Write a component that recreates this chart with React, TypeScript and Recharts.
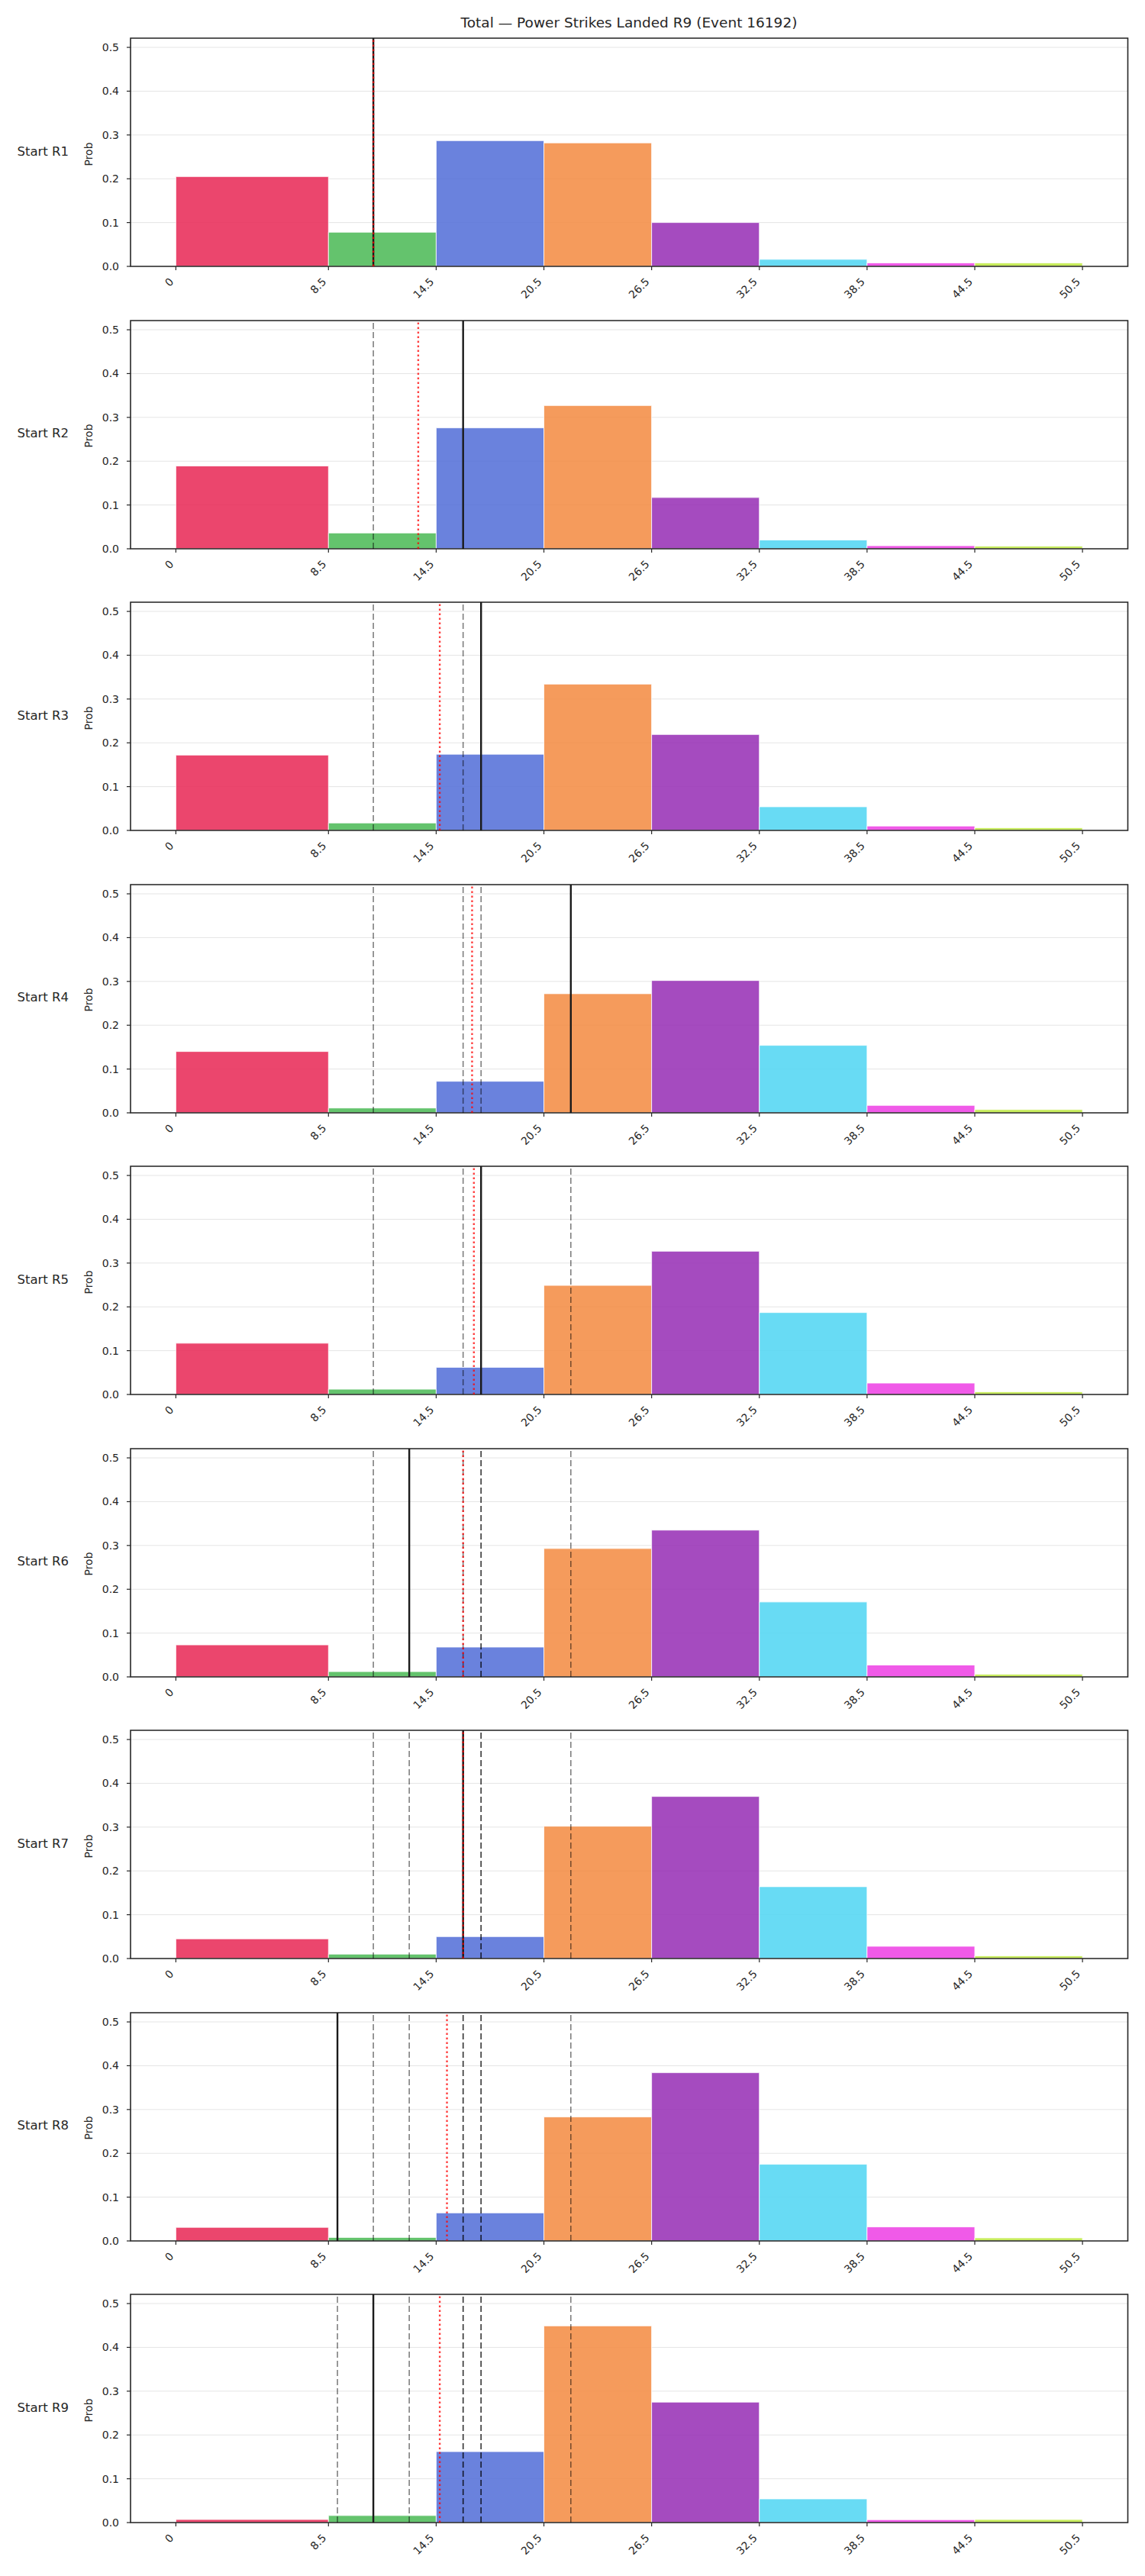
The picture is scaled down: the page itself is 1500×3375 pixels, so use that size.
import React from 'react'
import {
  ComposedChart, Line, XAxis, YAxis, CartesianGrid, ReferenceArea, ReferenceLine,
} from 'recharts'

const FONT = '"DejaVu Sans", sans-serif'
const INK = '#262626'

// bin edges of the histogram (also the x tick values)
const EDGES = [0, 8.5, 14.5, 20.5, 26.5, 32.5, 38.5, 44.5, 50.5]
const BIN_COLORS = ['#E72654', '#49B853', '#506CD7', '#F38A3F', '#952CB4', '#4DD5F2', '#ED3DE4', '#BDE93F']
const Y_TICKS = [0, 0.1, 0.2, 0.3, 0.4, 0.5]
const X_DOMAIN: [number, number] = [-2.525, 53.025]
const Y_DOMAIN: [number, number] = [0, 0.521]

const ROUND_LABELS = ['Start R1', 'Start R2', 'Start R3', 'Start R4', 'Start R5', 'Start R6', 'Start R7', 'Start R8', 'Start R9']

// probability per bin, one list per panel
const P_R1 = [0.205, 0.078, 0.287, 0.282, 0.100, 0.016, 0.008, 0.008]
const P_R2 = [0.189, 0.036, 0.276, 0.327, 0.117, 0.020, 0.007, 0.006]
const P_R3 = [0.172, 0.017, 0.174, 0.334, 0.219, 0.054, 0.010, 0.006]
const P_R4 = [0.140, 0.011, 0.072, 0.272, 0.302, 0.154, 0.017, 0.0075]
const P_R5 = [0.117, 0.012, 0.062, 0.249, 0.327, 0.187, 0.026, 0.006]
const P_R6 = [0.073, 0.012, 0.068, 0.293, 0.335, 0.171, 0.027, 0.006]
const P_R7 = [0.045, 0.010, 0.050, 0.302, 0.370, 0.164, 0.028, 0.006]
const P_R8 = [0.031, 0.008, 0.064, 0.283, 0.384, 0.175, 0.032, 0.007]
const P_R9 = [0.007, 0.016, 0.162, 0.449, 0.275, 0.054, 0.0065, 0.007]
const PROBS = [P_R1, P_R2, P_R3, P_R4, P_R5, P_R6, P_R7, P_R8, P_R9]

// solid black marker of each panel; earlier ones come back as dashed lines
const ACTUAL = [11, 16, 17, 22, 17, 13, 16, 9, 11]
// red dotted marker
const EXPECTED = [11, 13.5, 14.7, 16.5, 16.6, 16.0, 16.0, 15.1, 14.7]

const PLOT_TOP = 50
const PITCH = 369.5
const PLOT_H = 299
const TOP_PAD = 10

function fmtX(v: number) {
  return Number.isInteger(v) ? String(v) : v.toFixed(1)
}

function XTick({ x, y, payload }: any) {
  const ax = x - 2
  const ay = y + 14
  return (
    <text x={ax} y={ay} transform={`rotate(-45 ${ax} ${ay})`} textAnchor="end"
      fontFamily={FONT} fontSize={14} fill={INK}>
      {fmtX(payload.value)}
    </text>
  )
}

function Panel({ idx }: { idx: number }) {
  const probs = PROBS[idx]
  const bins = probs.map((p, i) => ({ lo: EDGES[i], hi: EDGES[i + 1], mid: (EDGES[i] + EDGES[i + 1]) / 2, p }))
  const past = ACTUAL.slice(0, idx)
  return (
    <ComposedChart width={1500} height={PLOT_H + TOP_PAD + 60} data={bins}
      margin={{ top: TOP_PAD, right: 22.5, left: 0, bottom: 0 }}>
      <CartesianGrid vertical={false} stroke="#e5e5e5" strokeWidth={1} />
      <XAxis type="number" dataKey="mid" domain={X_DOMAIN} allowDataOverflow ticks={EDGES} interval={0}
        tick={<XTick />} tickSize={5} tickLine={{ stroke: INK, strokeWidth: 1.2 }} axisLine={false} height={60} />
      <YAxis type="number" domain={Y_DOMAIN} allowDataOverflow ticks={Y_TICKS} interval={0} width={171}
        tickFormatter={(v: number) => v.toFixed(1)} tickSize={5} tickMargin={10}
        tick={{ fontFamily: FONT, fontSize: 14, fill: INK }}
        tickLine={{ stroke: INK, strokeWidth: 1.2 }} axisLine={false} />
      <Line dataKey="p" stroke="none" dot={false} activeDot={false} isAnimationActive={false} />
      {bins.map((b, i) => (
        <ReferenceArea key={'b' + i} x1={b.lo} x2={b.hi} y1={0} y2={b.p} ifOverflow="visible"
          fill={BIN_COLORS[i]} fillOpacity={0.85} stroke="#ffffff" strokeWidth={0.8} strokeOpacity={1} />
      ))}
      {past.map((v, i) => (
        <ReferenceLine key={'d' + i} x={v} stroke="#000" strokeOpacity={0.5} strokeWidth={1.6}
          strokeDasharray="8 4" ifOverflow="visible" />
      ))}
      <ReferenceLine x={ACTUAL[idx]} stroke="#1a1a1a" strokeWidth={2.4} ifOverflow="visible" />
      <ReferenceLine x={EXPECTED[idx]} stroke="#ff0000" strokeOpacity={0.75} strokeWidth={2.4}
        strokeDasharray="2.5 3.5" ifOverflow="visible" />
      <ReferenceArea x1={X_DOMAIN[0]} x2={X_DOMAIN[1]} y1={Y_DOMAIN[0]} y2={Y_DOMAIN[1]} ifOverflow="visible"
        fill="none" stroke={INK} strokeWidth={1.6} strokeOpacity={1} />
    </ComposedChart>
  )
}

export default function App() {
  return (
    <div style={{ position: 'absolute', left: 0, top: 0, width: 1500, height: 3375, background: '#fff', fontFamily: FONT, color: INK }}>
      <div style={{ position: 'absolute', left: 324, width: 1000, top: 20, lineHeight: '20px', fontSize: 18.5, textAlign: 'center' }}>
        Total — Power Strikes Landed R9 (Event 16192)
      </div>
      {ROUND_LABELS.map((lab, i) => {
        const top = PLOT_TOP + i * PITCH
        const mid = top + PLOT_H / 2
        return (
          <React.Fragment key={lab}>
            <div style={{ position: 'absolute', left: 0, top: top - TOP_PAD }}>
              <Panel idx={i} />
            </div>
            <div style={{ position: 'absolute', left: 0, width: 90, top: mid - 11, lineHeight: '20px', fontSize: 16.5, textAlign: 'right' }}>
              {lab}
            </div>
            <div style={{ position: 'absolute', left: 66, width: 100, top: mid - 8, lineHeight: '20px', fontSize: 14, textAlign: 'center', transform: 'rotate(-90deg)' }}>
              Prob
            </div>
          </React.Fragment>
        )
      })}
    </div>
  )
}
